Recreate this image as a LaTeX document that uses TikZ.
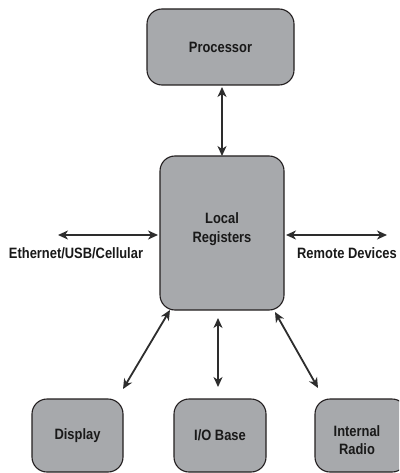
\documentclass[tikz,border=0pt]{standalone}
\usepackage{fontspec}
\setmainfont{Liberation Sans}[FakeStretch=0.86]
\usetikzlibrary{arrows.meta}
\definecolor{boxfill}{HTML}{A7A9AC}
\definecolor{boxline}{HTML}{231F20}
\definecolor{arrowcol}{HTML}{2D2D2D}
\tikzset{
  blk/.style={draw=boxline, fill=boxfill, line width=1.1pt, rounded corners=15pt, inner sep=0pt},
  txt/.style={font=\fontsize{15}{18.5}\selectfont\bfseries, text=black!90, align=center, inner sep=0pt},
  link/.style={draw=arrowcol, line width=1.8pt, {Stealth[length=10pt,width=9pt,inset=3pt]}-{Stealth[length=10pt,width=9pt,inset=3pt]}}
}
\begin{document}
\begin{tikzpicture}[x=1pt,y=-1pt]
\clip (0,0) rectangle (399,473);
\fill[white] (0,0) rectangle (399,473);
% boxes
\node[blk, minimum width=147pt, minimum height=76pt, txt] (proc) at (220.5,47) {Processor};
\node[blk, minimum width=124pt, minimum height=154pt] (reg) at (222,233) {};
\node[txt] (regtxt) at (222,229) {Local\\Registers};
\node[blk, minimum width=91pt, minimum height=73pt, txt] (disp) at (77.5,435.5) {Display};
\node[blk, minimum width=92pt, minimum height=73pt, txt] (io) at (220,435.5) {I/O Base};
\node[blk, minimum width=92pt, minimum height=73pt] (radio) at (361,435.5) {};
\node[txt] (radiotxt) at (357,440) {Internal\\Radio};
% side labels
\node[txt] (eth) at (76,253) {Ethernet/USB/Cellular};
\node[txt] (remote) at (347,253) {Remote Devices};
% free ends
\coordinate (ethend) at (58,235);
\coordinate (remend) at (387,235);
\coordinate (regL) at (158,235);
\coordinate (regR) at (286,235);
\coordinate (procB) at (222,87);
\coordinate (regT) at (222,156);
\coordinate (regBL) at (170,310);
\coordinate (dispT) at (123,389);
\coordinate (regBM) at (218,318);
\coordinate (ioT) at (218,387);
\coordinate (regBR) at (275,312);
\coordinate (radioT) at (318,388);
% connectors
\draw[link] (procB) -- (regT);
\draw[link] (ethend) -- (regL);
\draw[link] (regR) -- (remend);
\draw[link] (regBL) -- (dispT);
\draw[link] (regBM) -- (ioT);
\draw[link] (regBR) -- (radioT);
\end{tikzpicture}
\end{document}
